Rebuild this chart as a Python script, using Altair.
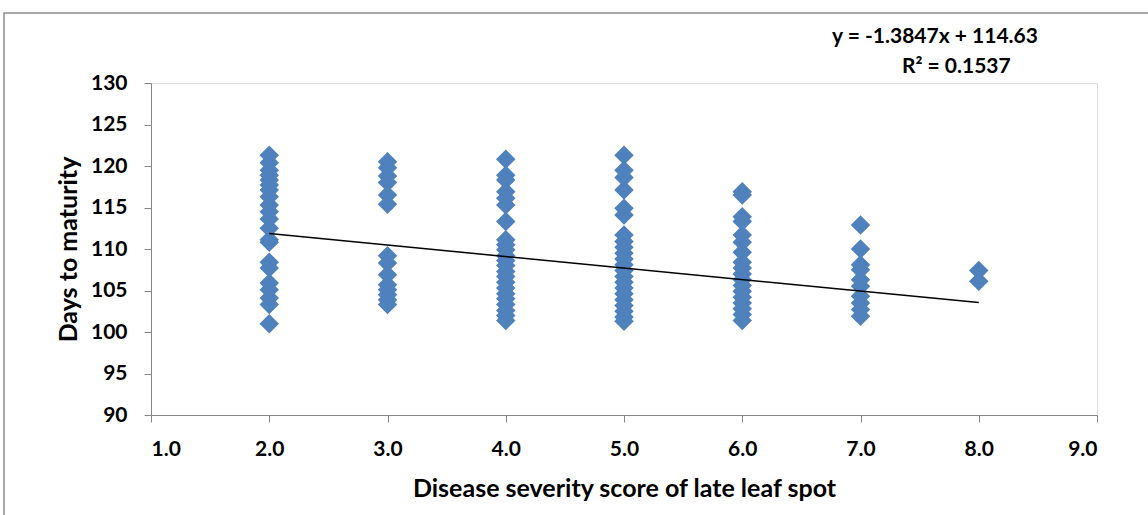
import altair as alt
import pandas as pd

# Disease severity score columns and Days-to-maturity values
score_2 = [121.3, 120.4, 119.5, 118.9, 118.3, 117.7, 117.1, 116.3, 115.3, 114.5,
           113.6, 112.5, 111.1, 110.8, 108.4, 107.7, 105.9, 105.1, 104.1, 103.3, 101.0]
score_3 = [120.5, 119.8, 118.8, 118.0, 116.5, 115.4, 109.2, 108.3, 106.9, 105.7,
           105.1, 104.5, 103.9, 103.3]
score_4 = [120.8, 118.9, 118.3, 116.9, 116.1, 115.3, 113.3, 111.1, 110.5, 109.9,
           109.2, 108.6, 108.0, 107.3, 106.7, 106.0, 105.3, 104.6, 104.0, 103.3,
           102.6, 102.0, 101.4]
score_5 = [121.3, 119.5, 118.6, 117.1, 114.9, 114.1, 111.7, 110.9, 110.2, 109.5,
           108.8, 108.1, 107.4, 106.7, 106.0, 105.3, 104.6, 103.9, 103.2, 102.5,
           101.8, 101.3]
score_6 = [116.9, 116.5, 113.9, 113.3, 111.7, 110.8, 109.6, 108.4, 107.7, 107.0,
           106.3, 105.6, 104.9, 104.2, 103.5, 102.8, 102.1, 101.4]
score_7 = [112.9, 110.0, 108.1, 107.5, 106.3, 105.5, 104.3, 103.5, 102.7, 101.9]
score_8 = [107.4, 106.1]

columns = {2.0: score_2, 3.0: score_3, 4.0: score_4, 5.0: score_5,
           6.0: score_6, 7.0: score_7, 8.0: score_8}

# Trend line as printed on the chart
slope = -1.3847
intercept = 114.63
trend_x = [2.0, 8.0]

x_ticks = [1, 2, 3, 4, 5, 6, 7, 8, 9]
y_ticks = [90, 95, 100, 105, 110, 115, 120, 125, 130]

eq_text = ["y = -1.3847x + 114.63", "R\u00b2 = 0.1537"]
eq_x = [7.63, 7.81]
eq_y = [135.5, 131.9]

rows = []
for xv, ys in columns.items():
    for yv in ys:
        rows.append({"score": xv, "days": yv})
pts = pd.DataFrame(rows)
trend = pd.DataFrame({"score": trend_x, "days": [slope * v + intercept for v in trend_x]})
eq = pd.DataFrame({"score": eq_x, "days": eq_y, "label": eq_text})

FONT = "Lato"
GRAY = "#868686"

xscale = alt.Scale(domain=[1, 9], nice=False, zero=False)
yscale = alt.Scale(domain=[90, 130], nice=False, zero=False)

xaxis = alt.Axis(values=x_ticks, format=".1f", title="Disease severity score of late leaf spot",
                 grid=False, domainColor=GRAY, tickColor=GRAY, tickSize=7, labelPadding=16,
                 labelFont=FONT, labelFontSize=21, labelFontWeight="bold", labelColor="black",
                 titleFont=FONT, titleFontSize=25, titleFontWeight="bold", titleColor="black",
                 titlePadding=17)
yaxis = alt.Axis(values=y_ticks, title="Days to maturity", grid=False,
                 domainColor=GRAY, tickColor=GRAY, tickSize=7, labelPadding=17,
                 labelFont=FONT, labelFontSize=21, labelFontWeight="bold", labelColor="black",
                 titleFont=FONT, titleFontSize=25, titleFontWeight="bold", titleColor="black",
                 titlePadding=9)

points = alt.Chart(pts).mark_point(shape="diamond", filled=True, size=380,
                                   color="#4F81BD", opacity=1).encode(
    x=alt.X("score:Q", scale=xscale, axis=xaxis),
    y=alt.Y("days:Q", scale=yscale, axis=yaxis),
)

line = alt.Chart(trend).mark_line(color="black", strokeWidth=1.5).encode(
    x=alt.X("score:Q", scale=xscale),
    y=alt.Y("days:Q", scale=yscale),
)

labels = alt.Chart(eq).mark_text(font=FONT, fontSize=21, fontWeight="bold",
                                 color="black", align="center", baseline="middle").encode(
    x=alt.X("score:Q", scale=xscale),
    y=alt.Y("days:Q", scale=yscale),
    text="label:N",
)

frame = alt.Chart(pd.DataFrame({"k": [0]})).mark_rect(
    fill=None, stroke="#8c8c8c", strokeWidth=1.5, clip=False).encode(
    x=alt.value(-147), y=alt.value(-70), x2=alt.value(1200), y2=alt.value(600)
)

chart = alt.layer(frame, points, line, labels).properties(
    width=946, height=332,
    padding={"left": 151, "top": 83, "right": 51, "bottom": 100},
    autosize=alt.AutoSizeParams(type="none"),
).configure_view(stroke=None).configure(background="white")

chart.save("out.html", embed_options={"renderer": "svg", "actions": False})
